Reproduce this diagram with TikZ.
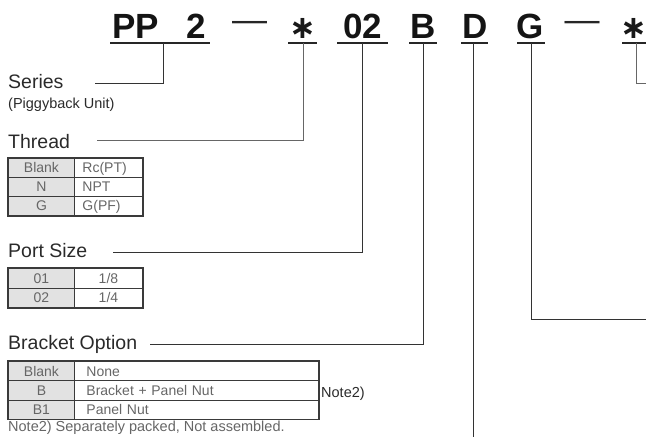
\documentclass[tikz,border=0pt]{standalone}
\usepackage{fontspec}
\setmainfont{Liberation Sans}
\newfontfamily\astfont{DejaVu Sans}
\definecolor{lblc}{HTML}{2A2A2A}
\definecolor{cellc}{HTML}{666666}
\definecolor{keyfill}{HTML}{E2E2E2}
\definecolor{rulec}{HTML}{3A3A3A}
\tikzset{
  hd/.style={font=\fontsize{35}{35}\selectfont\bfseries, anchor=base, inner sep=0pt, text=black!92},
  dsh/.style={font=\fontsize{35}{35}\selectfont, anchor=base, inner sep=0pt, text=black!85},
  ast/.style={font=\astfont\fontsize{32}{32}\selectfont\bfseries, anchor=base, inner sep=0pt, text=black!90},
  ul/.style={line width=1.3pt, draw=black!85},
  lead/.style={line width=1pt, draw=black!80},
  leadg/.style={line width=1pt, draw=black!60},
  lbl/.style={font=\fontsize{19.5}{20}\selectfont, anchor=base west, inner sep=0pt, text=lblc},
  small/.style={font=\fontsize{14.5}{15}\selectfont, anchor=base west, inner sep=0pt, text=lblc},
  cell/.style={draw=rulec, line width=0.9pt, anchor=north west, font=\fontsize{14}{14}\selectfont,
    text=cellc, text height=10pt, text depth=0pt, inner ysep=0pt},
  keyc/.style={cell, fill=keyfill, minimum width=66pt, inner xsep=0pt},
  valc/.style={cell, align=left, text width=#1, inner xsep=8pt},
  valcc/.style={cell, minimum width=68pt, inner xsep=0pt},
}
\begin{document}
\begin{tikzpicture}[x=1pt,y=-1pt]
\useasboundingbox (0,0) rectangle (646,437);

% ---- code header ----
\node[hd] (pp)  at (135.5,38) {PP};
\node[hd] (two) at (196,38) {2};
\node[dsh] (d1) at (249.5,31.5) {—};
\node[ast] (a1) at (303,38) {∗};
\node[hd] (n02) at (362.5,38) {02};
\node[hd] (nB)  at (423,38) {B};
\node[hd] (nD)  at (475,38) {D};
\node[hd] (nG)  at (530.5,38) {G};
\node[dsh] (d2) at (582,31.5) {—};
\node[ast] (a2) at (634,38) {∗};

% underline anchors
\coordinate (uPPa) at (110,43); \coordinate (uPPb) at (210,43); \coordinate (uPP) at (163,43);
\coordinate (uA1a) at (288,43); \coordinate (uA1b) at (317,43); \coordinate (uA1) at (303,43);
\coordinate (u02a) at (337,43); \coordinate (u02b) at (388,43); \coordinate (u02) at (362,43);
\coordinate (uBa) at (409,43);  \coordinate (uBb) at (437,43);  \coordinate (uB) at (423,43);
\coordinate (uDa) at (461,43);  \coordinate (uDb) at (488,43);  \coordinate (uD) at (473.5,43);
\coordinate (uGa) at (517,43);  \coordinate (uGb) at (545,43);  \coordinate (uG) at (531,43);
\coordinate (uA2a) at (622,43); \coordinate (uA2b) at (646,43); \coordinate (uA2) at (636,43);

\foreach \u in {PP,A1,02,B,D,G,A2}{\draw[ul] (u\u a) -- (u\u b);}

% ---- labels ----
\node[lbl] (series) at (8,88) {Series};
\node[small] (piggy) at (8,108) {(Piggyback Unit)};
\node[lbl] (thread) at (8,148) {Thread};
\node[lbl] (port) at (8,257) {Port Size};
\node[lbl] (bracket) at (8,349) {Bracket Option};

% leader end points
\coordinate (eSeries) at (95,83);
\coordinate (eThread) at (97,140);
\coordinate (ePort) at (113,252);
\coordinate (eBracket) at (150,344);
\coordinate (eD) at (473.5,437);
\coordinate (eG) at (646,319);
\coordinate (eA2) at (646,83);

\draw[lead] (uPP) |- (eSeries);
\draw[leadg] (uA1) |- (eThread);
\draw[lead] (u02) |- (ePort);
\draw[lead] (uB) |- (eBracket);
\draw[lead] (uD) -- (eD);
\draw[lead] (uG) |- (eG);
\draw[leadg] (uA2) |- (eA2);

% ---- Thread table ----
\node[keyc, minimum height=19pt] (tk1) at (8,158) {Blank};
\node[keyc, minimum height=19pt] (tk2) at (8,177) {N};
\node[keyc, minimum height=19pt] (tk3) at (8,196) {G};
\node[valc=52pt, minimum height=19pt] (tv1) at (74,158) {Rc(PT)};
\node[valc=52pt, minimum height=19pt] (tv2) at (74,177) {NPT};
\node[valc=52pt, minimum height=19pt] (tv3) at (74,196) {G(PF)};
\draw[rulec, line width=1.2pt] (tk1.north west) rectangle (tv3.south east);

% ---- Port size table ----
\node[keyc, minimum height=19.5pt] (pk1) at (8,268) {01};
\node[keyc, minimum height=19.5pt] (pk2) at (8,287.5) {02};
\node[valcc, minimum height=19.5pt] (pv1) at (74,268) {1/8};
\node[valcc, minimum height=19.5pt] (pv2) at (74,287.5) {1/4};
\draw[rulec, line width=1.2pt] (pk1.north west) rectangle (pv2.south east);

% ---- Bracket table ----
\node[keyc, minimum height=19.3pt] (bk1) at (8,361) {Blank};
\node[keyc, minimum height=19.3pt] (bk2) at (8,380.3) {B};
\node[keyc, minimum height=19.3pt] (bk3) at (8,399.6) {B1};
\node[valc=220pt, minimum height=19.3pt, inner xsep=12pt] (bv1) at (74,361) {None};
\node[valc=220pt, minimum height=19.3pt, inner xsep=12pt] (bv2) at (74,380.3) {Bracket + Panel Nut};
\node[valc=220pt, minimum height=19.3pt, inner xsep=12pt] (bv3) at (74,399.6) {Panel Nut};
\draw[rulec, line width=1.2pt] (bk1.north west) rectangle (bv3.south east);

\node[small, font=\fontsize{14.5}{15}\selectfont] (note) at (321,397) {Note2)};
\node[small, text=cellc] (foot) at (8,431) {Note2) Separately packed, Not assembled.};
\end{tikzpicture}
\end{document}
